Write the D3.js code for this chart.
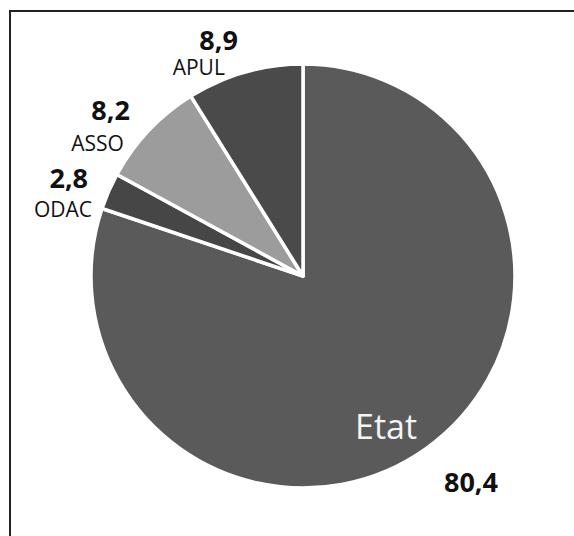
<!DOCTYPE html>
<html>
<head>
<meta charset="utf-8">
<script src="https://cdn.jsdelivr.net/npm/d3@7"></script>
<style>
  body { margin: 0; background: #fff; }
  svg { display: block; }
  text { font-family: "Open Sans", "Noto Sans", sans-serif; }
</style>
</head>
<body>
<svg width="574" height="536"></svg>
<script>
// data
var categories = ["Etat", "ODAC", "ASSO", "APUL"];
var values = [80.4, 2.8, 8.2, 8.9];
var valueLabels = ["80,4", "2,8", "8,2", "8,9"];
var colors = ["#5a5a5a", "#464646", "#9c9c9c", "#4a4a4a"];

var width = 574, height = 536;
var cx = 303, cy = 276, radius = 212;

var svg = d3.select("svg");

// frame (only top and left show in the picture)
svg.append("path")
   .attr("d", "M10,536 L10,11 L574,11")
   .attr("fill", "none")
   .attr("stroke", "#222")
   .attr("stroke-width", 2);

var pie = d3.pie().value(function(d){ return d; }).sort(null);
var arcs = pie(values);

var arc = d3.arc().outerRadius(radius).innerRadius(0);

var g = svg.append("g")
           .attr("transform", "translate(" + cx + "," + cy + ")");

g.selectAll("path")
  .data(arcs)
  .enter()
  .append("path")
  .attr("d", arc)
  .attr("fill", function(d,i){ return colors[i]; })
  .attr("stroke", "#fff")
  .attr("stroke-width", 3.5)
  .attr("stroke-linejoin", "round");

// small slices are labelled near the start edge of the slice
function edgePoint(a, r) {
  return [Math.sin(a) * r, -Math.cos(a) * r];
}

// name / value offsets from the anchor point
var nameOff = [[83, 163], [-10, 9], [7, -23], [34, -21]];
var valOff  = [[168, 216], [-14, -20], [13, -54], [47, -46]];

arcs.forEach(function(d, i) {
  var p;
  if (i === 0) {
    p = [0, 0];
  } else {
    p = edgePoint(d.startAngle, radius);
  }
  var big = (i === 0);
  g.append("text")
    .attr("x", p[0] + nameOff[i][0])
    .attr("y", p[1] + nameOff[i][1])
    .attr("text-anchor", big ? "middle" : "end")
    .attr("font-size", big ? 34 : 21)
    .attr("fill", big ? "#f4f4f4" : "#111")
    .text(categories[i]);
  g.append("text")
    .attr("x", p[0] + valOff[i][0])
    .attr("y", p[1] + valOff[i][1])
    .attr("text-anchor", big ? "middle" : "end")
    .attr("font-size", 27)
    .attr("font-weight", "bold")
    .attr("fill", "#111")
    .text(valueLabels[i]);
});
</script>
</body>
</html>
